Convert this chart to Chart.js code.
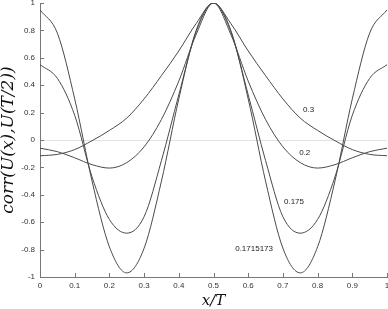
<!DOCTYPE html>
<html>
<head>
<meta charset="utf-8">
<script src="https://cdn.jsdelivr.net/npm/chart.js@4/dist/chart.umd.min.js"></script>
<style>
  html, body { margin: 0; padding: 0; background: #fff; }
  canvas { display: block; }
</style>
</head>
<body>
<canvas id="corr-chart" width="388" height="309"></canvas>
<script>
// x/T sample positions
const xPos = [0, 0.05, 0.1, 0.15, 0.2, 0.25, 0.3, 0.35, 0.4, 0.45, 0.5,
              0.55, 0.6, 0.65, 0.7, 0.75, 0.8, 0.85, 0.9, 0.95, 1];

// correlation values, one array per parameter
const corr03 = [-0.115, -0.105, -0.07, -0.005, 0.07, 0.16, 0.3, 0.47, 0.65, 0.85, 1,
                0.85, 0.65, 0.47, 0.3, 0.16, 0.07, -0.005, -0.07, -0.105, -0.115];
const corr02 = [-0.06, -0.085, -0.13, -0.18, -0.205, -0.165, -0.05, 0.15, 0.43, 0.77, 1,
                0.77, 0.43, 0.15, -0.05, -0.165, -0.205, -0.18, -0.13, -0.085, -0.06];
const corr0175 = [0.55, 0.45, 0.18, -0.27, -0.58, -0.68, -0.56, -0.15, 0.33, 0.79, 1,
                  0.79, 0.33, -0.15, -0.56, -0.68, -0.58, -0.27, 0.18, 0.45, 0.55];
const corr01715 = [0.95, 0.78, 0.3, -0.3, -0.78, -0.97, -0.79, -0.3, 0.3, 0.8, 1,
                   0.8, 0.3, -0.3, -0.79, -0.97, -0.78, -0.3, 0.3, 0.78, 0.95];

const seriesNames = ['0.3', '0.2', '0.175', '0.1715173'];
const xTicks = [0, 0.1, 0.2, 0.3, 0.4, 0.5, 0.6, 0.7, 0.8, 0.9, 1];
const yTicks = [-1, -0.8, -0.6, -0.4, -0.2, 0, 0.2, 0.4, 0.6, 0.8, 1];

function toPoints(ys) {
    return xPos.map(function (x, i) { return { x: x, y: ys[i] }; });
}

// where the curve names sit, in data units
const nameSpots = [
    { x: 0.774, y: 0.22 },
    { x: 0.763, y: -0.097 },
    { x: 0.732, y: -0.45 },
    { x: 0.617, y: -0.796 }
];

const matlabLook = {
    id: 'matlabLook',
    afterDatasetsDraw(chart) {
        const ctx = chart.ctx;
        const xs = chart.scales.x;
        const ys = chart.scales.y;
        const area = chart.chartArea;
        ctx.save();
        // inward tick marks
        ctx.strokeStyle = '#777';
        ctx.lineWidth = 1;
        ctx.beginPath();
        xTicks.forEach(function (v) {
            const px = Math.round(xs.getPixelForValue(v)) + 0.5;
            ctx.moveTo(px, area.bottom);
            ctx.lineTo(px, area.bottom - 4);
        });
        yTicks.forEach(function (v) {
            const py = Math.round(ys.getPixelForValue(v)) + 0.5;
            ctx.moveTo(area.left, py);
            ctx.lineTo(area.left + 4, py);
        });
        ctx.stroke();
        // curve names
        ctx.font = '8px "Liberation Sans", Arial, sans-serif';
        ctx.textAlign = 'center';
        ctx.textBaseline = 'middle';
        ctx.fillStyle = '#222';
        seriesNames.forEach(function (name, i) {
            ctx.fillText(name, xs.getPixelForValue(nameSpots[i].x), ys.getPixelForValue(nameSpots[i].y));
        });
        ctx.restore();
    }
};

const allSeries = [corr03, corr02, corr0175, corr01715];

new Chart(document.getElementById('corr-chart').getContext('2d'), {
    type: 'line',
    data: {
        datasets: allSeries.map(function (ys, i) {
            return {
                label: seriesNames[i],
                data: toPoints(ys),
                borderColor: '#4a4a4a',
                borderWidth: 1,
                pointRadius: 0,
                cubicInterpolationMode: 'monotone',
                fill: false
            };
        })
    },
    options: {
        responsive: false,
        animation: false,
        layout: { padding: { top: 3, right: 1, left: 0, bottom: 0 } },
        plugins: {
            legend: { display: false },
            tooltip: { enabled: false }
        },
        scales: {
            x: {
                type: 'linear',
                min: 0,
                max: 1,
                afterBuildTicks: function (scale) {
                    scale.ticks = xTicks.map(function (v) { return { value: v }; });
                },
                afterFit: function (scale) {
                    scale.height = 32;
                    scale.paddingLeft = 0;
                    scale.paddingRight = 0;
                },
                grid: { display: false, drawTicks: false },
                border: { display: true, color: '#777', width: 1 },
                ticks: {
                    padding: 4,
                    maxRotation: 0,
                    autoSkip: false,
                    color: '#333',
                    font: { family: '"Liberation Sans", Arial, sans-serif', size: 8 },
                    callback: function (v) { return String(v); }
                },
                title: {
                    display: true,
                    text: 'x/T',
                    color: '#111',
                    padding: 0,
                    font: { family: '"DejaVu Serif", serif', style: 'italic', size: 15, lineHeight: 1 }
                }
            },
            y: {
                type: 'linear',
                min: -1,
                max: 1,
                afterBuildTicks: function (scale) {
                    scale.ticks = yTicks.map(function (v) { return { value: v }; });
                },
                afterFit: function (scale) {
                    scale.width = 40;
                    scale.paddingTop = 0;
                    scale.paddingBottom = 0;
                },
                grid: {
                    drawTicks: false,
                    color: function (c) { return c.tick && c.tick.value === 0 ? '#e2e2e2' : 'rgba(0,0,0,0)'; },
                    lineWidth: 1
                },
                border: { display: true, color: '#777', width: 1 },
                ticks: {
                    padding: 5,
                    autoSkip: false,
                    color: '#333',
                    font: { family: '"Liberation Sans", Arial, sans-serif', size: 8 },
                    callback: function (v) { return String(v); }
                },
                title: {
                    display: true,
                    text: 'corr(U(x),U(T/2))',
                    color: '#111',
                    padding: 0,
                    font: { family: '"DejaVu Serif", serif', style: 'italic', size: 17, lineHeight: 1.05 }
                }
            }
        }
    },
    plugins: [matlabLook]
});
</script>
</body>
</html>
